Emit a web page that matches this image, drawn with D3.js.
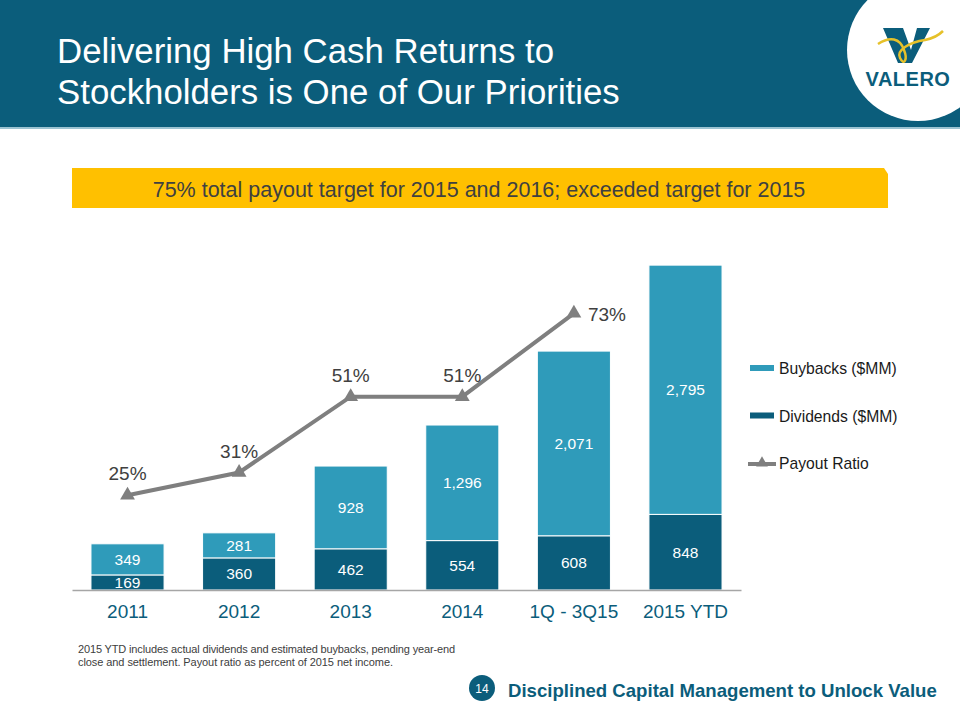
<!DOCTYPE html>
<html><head><meta charset="utf-8">
<script src="https://cdn.jsdelivr.net/npm/d3@7"></script>
<style>body{margin:0;background:#fff}svg{display:block}</style>
</head><body>
<svg id="c" width="960" height="720"></svg>
<script>
const categories = ["2011","2012","2013","2014","1Q - 3Q15","2015 YTD"];
const dividends = [169,360,462,554,608,848];
const buybacks = [349,281,928,1296,2071,2795];
const payoutCats = ["2011","2012","2013","2014","1Q - 3Q15"];
const payoutRatio = [25,31,51,51,73];
const titleLines = ["Delivering High Cash Returns to","Stockholders is One of Our Priorities"];
const bannerText = "75% total payout target for 2015 and 2016; exceeded target for 2015";
const footnoteLines = ["2015 YTD includes actual dividends and estimated buybacks, pending year-end","close and settlement.  Payout ratio as percent of 2015 net income."];
const footerText = "Disciplined Capital Management to Unlock Value";
const pageNum = "14";

const TEAL = "#0b5d7b", LIGHT = "#2f9bba", GRAY = "#7f7f7f", TXT = "#404040";
const FONT = "'Liberation Sans', Arial, sans-serif";
const svg = d3.select("#c").style("font-family", FONT);

// Header
svg.append("rect").attr("x",0).attr("y",0).attr("width",960).attr("height",127).attr("fill",TEAL);
svg.append("rect").attr("x",0).attr("y",127).attr("width",960).attr("height",2).attr("fill","#9cc3d2");
titleLines.forEach((t,i)=>svg.append("text").attr("x",57).attr("y",63+i*41)
  .attr("fill","#fff").attr("font-size",34.8).text(t));

// Logo
const logo = svg.append("g");
logo.append("clipPath").attr("id","hc").append("rect").attr("width",960).attr("height",127);
logo.append("circle").attr("cx",918).attr("cy",50).attr("r",71).attr("fill","#fff").attr("clip-path","url(#hc)");
logo.append("path").attr("d","M883,28 L903,28 L911,50 L917,28 L930,28 L912,63 L898,63 Z").attr("fill",TEAL);
logo.append("path").attr("d","M878,44 C890,36 900,38 904,50 C908,60 904,66 900,58 C896,50 910,42 925,40 C935,38 940,34 943,31")
  .attr("fill","none").attr("stroke","#e6c12a").attr("stroke-width",2.5);
logo.append("text").attr("x",908).attr("y",86).attr("text-anchor","middle").attr("fill",TEAL)
  .attr("font-size",20).attr("font-weight","bold").attr("letter-spacing",0.5).text("VALERO");

// Banner
svg.append("path").attr("d","M72,168 L884,168 L888,174 L888,208 L72,208 Z").attr("fill","#ffc000");
svg.append("text").attr("x",479).attr("y",197).attr("text-anchor","middle").attr("fill",TXT)
  .attr("font-size",21.5).text(bannerText);

// Chart
const x = d3.scaleBand().domain(categories).range([72,741]).paddingInner(0.345).paddingOuter(0.17);
const y = d3.scaleLinear().domain([0,4250]).range([590,211]);
const y2 = d3.scaleLinear().domain([0,100]).range([590,211]);
const rows = categories.map((c,i)=>({cat:c,dividends:dividends[i],buybacks:buybacks[i]}));
const stack = d3.stack().keys(["dividends","buybacks"])(rows);
const colors = {dividends:TEAL,buybacks:LIGHT};
stack.forEach(s=>{
  svg.append("g").selectAll("rect").data(s).join("rect")
    .attr("x",d=>x(d.data.cat)).attr("width",x.bandwidth())
    .attr("y",d=>y(d[1])).attr("height",d=>y(d[0])-y(d[1]))
    .attr("fill",colors[s.key]).attr("stroke","#fff").attr("stroke-width",1);
  svg.append("g").selectAll("text").data(s).join("text")
    .attr("x",d=>x(d.data.cat)+x.bandwidth()/2)
    .attr("y",d=>(y(d[0])+y(d[1]))/2+5.5)
    .attr("text-anchor","middle").attr("fill","#fff").attr("font-size",15.5)
    .text(d=>d3.format(",")(d.data[s.key]));
});
// axis
const xAxis = svg.append("g").attr("transform","translate(0,590)").call(d3.axisBottom(x).tickSize(0).tickPadding(15));
xAxis.select(".domain").attr("stroke","#a6a6a6").attr("stroke-width",1.5);
xAxis.selectAll("text").attr("fill",TEAL).attr("font-size",19).attr("font-family",FONT);

// line
const pts = payoutCats.map((c,i)=>({cat:c,v:payoutRatio[i]}));
const cx = d=>x(d.cat)+x.bandwidth()/2;
svg.append("path").datum(pts).attr("fill","none").attr("stroke",GRAY).attr("stroke-width",4)
  .attr("d",d3.line().x(cx).y(d=>y2(d.v)));
const tri = d3.symbol().type(d3.symbolTriangle).size(95);
svg.append("g").selectAll("path").data(pts).join("path")
  .attr("transform",d=>`translate(${cx(d)},${y2(d.v)})`).attr("d",tri).attr("fill",GRAY);
svg.append("g").selectAll("text").data(pts).join("text")
  .attr("x",(d,i)=>i===pts.length-1?cx(d)+14:cx(d))
  .attr("y",(d,i)=>i===pts.length-1?y2(d.v)+8:y2(d.v)-15)
  .attr("text-anchor",(d,i)=>i===pts.length-1?"start":"middle")
  .attr("fill",TXT).attr("font-size",19).text(d=>d.v+"%");

// legend
const leg = svg.append("g");
const legItems = [{t:"Buybacks ($MM)",c:LIGHT,k:"bar"},{t:"Dividends ($MM)",c:TEAL,k:"bar"},{t:"Payout Ratio",c:GRAY,k:"line"}];
legItems.forEach((it,i)=>{
  const yy = 368+i*47.5;
  if(it.k==="bar") leg.append("rect").attr("x",750).attr("y",yy-3).attr("width",24).attr("height",6).attr("fill",it.c);
  else {
    leg.append("line").attr("x1",748).attr("x2",776).attr("y1",yy+1).attr("y2",yy+1).attr("stroke",it.c).attr("stroke-width",4);
    leg.append("path").attr("transform",`translate(762,${yy})`).attr("d",d3.symbol().type(d3.symbolTriangle).size(60)).attr("fill",it.c);
  }
  leg.append("text").attr("x",779).attr("y",yy+6).attr("fill","#1a1a1a").attr("font-size",15.7).text(it.t);
});

// footnote
svg.append("text").attr("x",78).attr("y",653).attr("fill",TXT).attr("font-size",11)
  .attr("textLength",377).attr("lengthAdjust","spacing").text(footnoteLines[0]);
svg.append("text").attr("x",78).attr("y",666).attr("fill",TXT).attr("font-size",11)
  .attr("textLength",315).attr("lengthAdjust","spacing").text(footnoteLines[1]);

// footer
svg.append("circle").attr("cx",482).attr("cy",688).attr("r",13).attr("fill",TEAL);
svg.append("text").attr("x",482).attr("y",692.5).attr("text-anchor","middle").attr("fill","#fff").attr("font-size",12).text(pageNum);
svg.append("text").attr("x",508).attr("y",697).attr("fill",TEAL).attr("font-size",18.6).attr("font-weight","bold").text(footerText);
</script>
</body></html>
